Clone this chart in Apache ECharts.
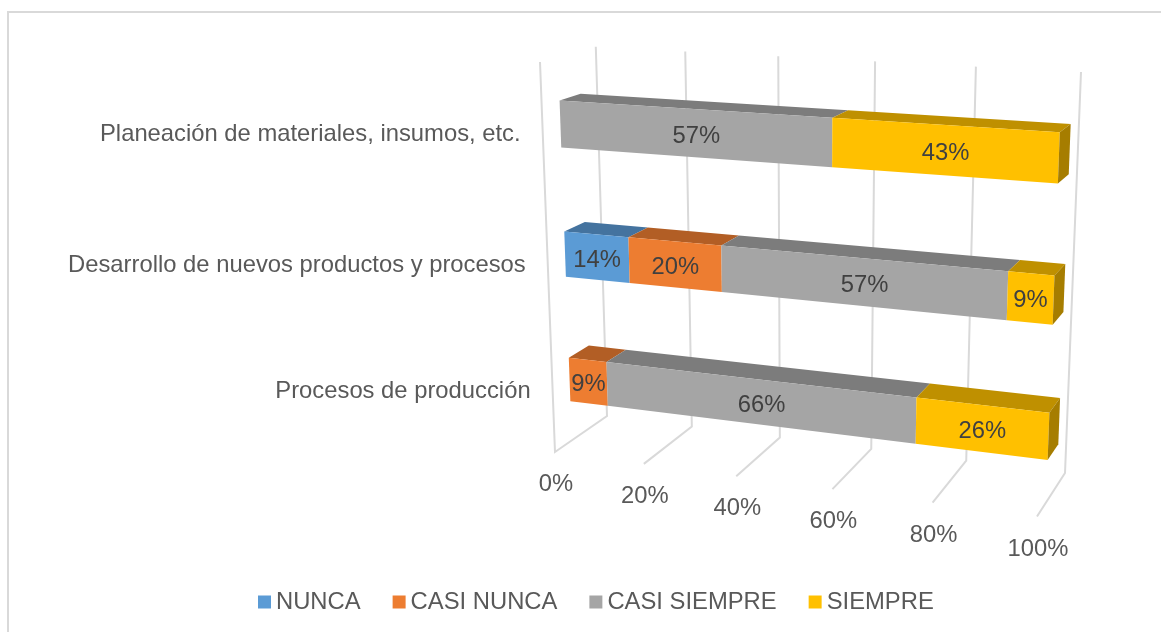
<!DOCTYPE html>
<html>
<head>
<meta charset="utf-8">
<style>
  html, body { margin: 0; padding: 0; background: #fff; }
  #chart { width: 1161px; height: 632px; }
</style>
<script src="https://cdn.jsdelivr.net/npm/echarts@6/dist/echarts.min.js"></script>
</head>
<body>
<div id="chart"></div>
<script>
// bottom-up, same order as the category axis
const categories = ['Procesos de producción', 'Desarrollo de nuevos productos y procesos', 'Planeación de materiales, insumos, etc.']
const ticks = [0, 20, 40, 60, 80, 100]
const nunca = [0, 14.3, 0]
const casiNunca = [8.6, 20, 0]
const casiSiempre = [65.7, 57.1, 57.1]
const siempre = [25.7, 8.6, 42.9]

const FONT = '"Liberation Sans", Arial, sans-serif'
const FONT_SIZE = 23.8
const SERIES = [
  { name: 'NUNCA', values: nunca, color: '#5B9BD5', top: '#44739F' },
  { name: 'CASI NUNCA', values: casiNunca, color: '#ED7D31', top: '#B25E25' },
  { name: 'CASI SIEMPRE', values: casiSiempre, color: '#A5A5A5', top: '#7C7C7C' },
  { name: 'SIEMPRE', values: siempre, color: '#FFC000', top: '#BF9000', side: '#A67D00' },
]

// bars sit in the middle of the floor depth, 35% of a category band thick
const DEPTH_FRONT = 0.31
const DEPTH_BACK = 0.69
const BAR_SHARE = 0.354

// x: 0..1 along the value axis, d: 0..1 into the floor, h: 0..1 up the wall
function project(x, d, h) {
  const w = 1 - 0.09605 * x + 0.05828 * d - 0.05617 * h
  return [
    (555 + 382.4 * x + 87.38 * d - 45.33 * h) / w,
    (452 + 14.89 * x - 11.76 * d - 393.48 * h) / w + 4 * x * h,
  ]
}

// grid pixels -> unit box of the 3d view
function unit(params, pt) {
  const cs = params.coordSys
  return [(pt[0] - cs.x) / cs.width, (cs.y + cs.height - pt[1]) / cs.height]
}

function poly(points, fill) {
  return { type: 'polygon', shape: { points }, style: { fill }, silent: true }
}

function renderBar(s) {
  return (params, api) => {
    const start = api.value(0)
    const end = api.value(1)
    const cat = api.value(2)
    if (end - start <= 0) return null
    const band = api.size([0, 1])[1] / params.coordSys.height
    const [x0, hc] = unit(params, api.coord([start, cat]))
    const [x1] = unit(params, api.coord([end, cat]))
    const hi = hc + band * BAR_SHARE / 2
    const lo = hc - band * BAR_SHARE / 2
    const front = [project(x0, DEPTH_FRONT, lo), project(x0, DEPTH_FRONT, hi), project(x1, DEPTH_FRONT, hi), project(x1, DEPTH_FRONT, lo)]
    const children = [
      poly([project(x0, DEPTH_FRONT, hi), project(x0, DEPTH_BACK, hi), project(x1, DEPTH_BACK, hi), project(x1, DEPTH_FRONT, hi)], s.top),
      poly(front, s.color),
    ]
    if (s.side) {
      children.push(poly([project(x1, DEPTH_FRONT, lo), project(x1, DEPTH_FRONT, hi), project(x1, DEPTH_BACK, hi), project(x1, DEPTH_BACK, lo)], s.side))
    }
    // label goes at the on-screen centre of the front face
    const midX = front.reduce((sum, p) => sum + p[0], 0) / 4
    const midY = front.reduce((sum, p) => sum + p[1], 0) / 4
    children.push({
      type: 'text',
      silent: true,
      style: {
        text: Math.round(end - start) + '%',
        x: midX,
        y: midY + 3,
        fill: '#404040',
        font: FONT_SIZE + 'px ' + FONT,
        align: 'center',
        verticalAlign: 'middle',
      },
    })
    return { type: 'group', children }
  }
}

function renderTick(params, api) {
  const [x] = unit(params, api.coord([api.value(0), 0]))
  const pts = [project(x, 0, 0), project(x, 1, 0), project(x, 1, 1)]
  // the side wall only exists at 0%
  if (api.value(0) === 0) pts.unshift(project(x, 0, 1))
  const front = project(x, 0, 0)
  return {
    type: 'group',
    children: [
      { type: 'polyline', shape: { points: pts }, style: { stroke: '#D9D9D9', lineWidth: 2, fill: 'none' }, silent: true },
      {
        type: 'text',
        silent: true,
        style: {
          text: api.value(0) + '%',
          x: front[0] + 1,
          y: front[1] + 32.5,
          fill: '#595959',
          font: FONT_SIZE + 'px ' + FONT,
          align: 'center',
          verticalAlign: 'middle',
        },
      },
    ],
  }
}

function renderCategory(params, api) {
  const idx = api.value(0)
  const [, h] = unit(params, api.coord([0, idx]))
  const p = project(0, 0, h)
  return {
    type: 'text',
    silent: true,
    style: {
      text: categories[idx],
      x: p[0] - 22,
      y: p[1] + 0.5 + 4 * h,
      fill: '#595959',
      font: FONT_SIZE + 'px ' + FONT,
      align: 'right',
      verticalAlign: 'middle',
    },
  }
}

function stackRows(index) {
  return categories.map((_, c) => {
    let start = 0
    for (let i = 0; i < index; i++) start += SERIES[i].values[c]
    return [start, start + SERIES[index].values[c], c]
  })
}

const chart = echarts.init(document.getElementById('chart'))
chart.setOption({
  animation: false,
  backgroundColor: '#fff',
  // hidden axes: only supply the scales, the view is projected from them
  grid: { left: 100, top: 100, width: 800, height: 300 },
  xAxis: { type: 'value', min: 0, max: 100, show: false },
  yAxis: { type: 'category', data: categories, show: false },
  legend: {
    data: SERIES.map((s) => s.name),
    left: 258,
    top: 590,
    padding: 0,
    itemWidth: 13,
    itemHeight: 13,
    itemGap: 32,
    icon: 'rect',
    selectedMode: false,
    textStyle: { color: '#595959', fontSize: FONT_SIZE, fontFamily: FONT },
  },
  graphic: [
    { type: 'rect', shape: { x: 8, y: 12, width: 1200, height: 700 }, style: { fill: 'none', stroke: '#D9D9D9', lineWidth: 2 }, silent: true, z: -1 },
  ],
  series: [
    {
      name: 'ejes',
      type: 'custom',
      z: 1,
      silent: true,
      data: ticks.map((t) => [t]),
      encode: { x: 0 },
      renderItem: renderTick,
    },
    {
      name: 'categorias',
      type: 'custom',
      z: 1,
      silent: true,
      data: categories.map((_, i) => [i]),
      encode: { y: 0 },
      renderItem: renderCategory,
    },
    ...SERIES.map((s, i) => ({
      name: s.name,
      type: 'custom',
      z: 2,
      silent: true,
      itemStyle: { color: s.color },
      data: stackRows(i),
      encode: { x: [0, 1], y: 2 },
      renderItem: renderBar(s),
    })),
  ],
})
</script>
</body>
</html>
